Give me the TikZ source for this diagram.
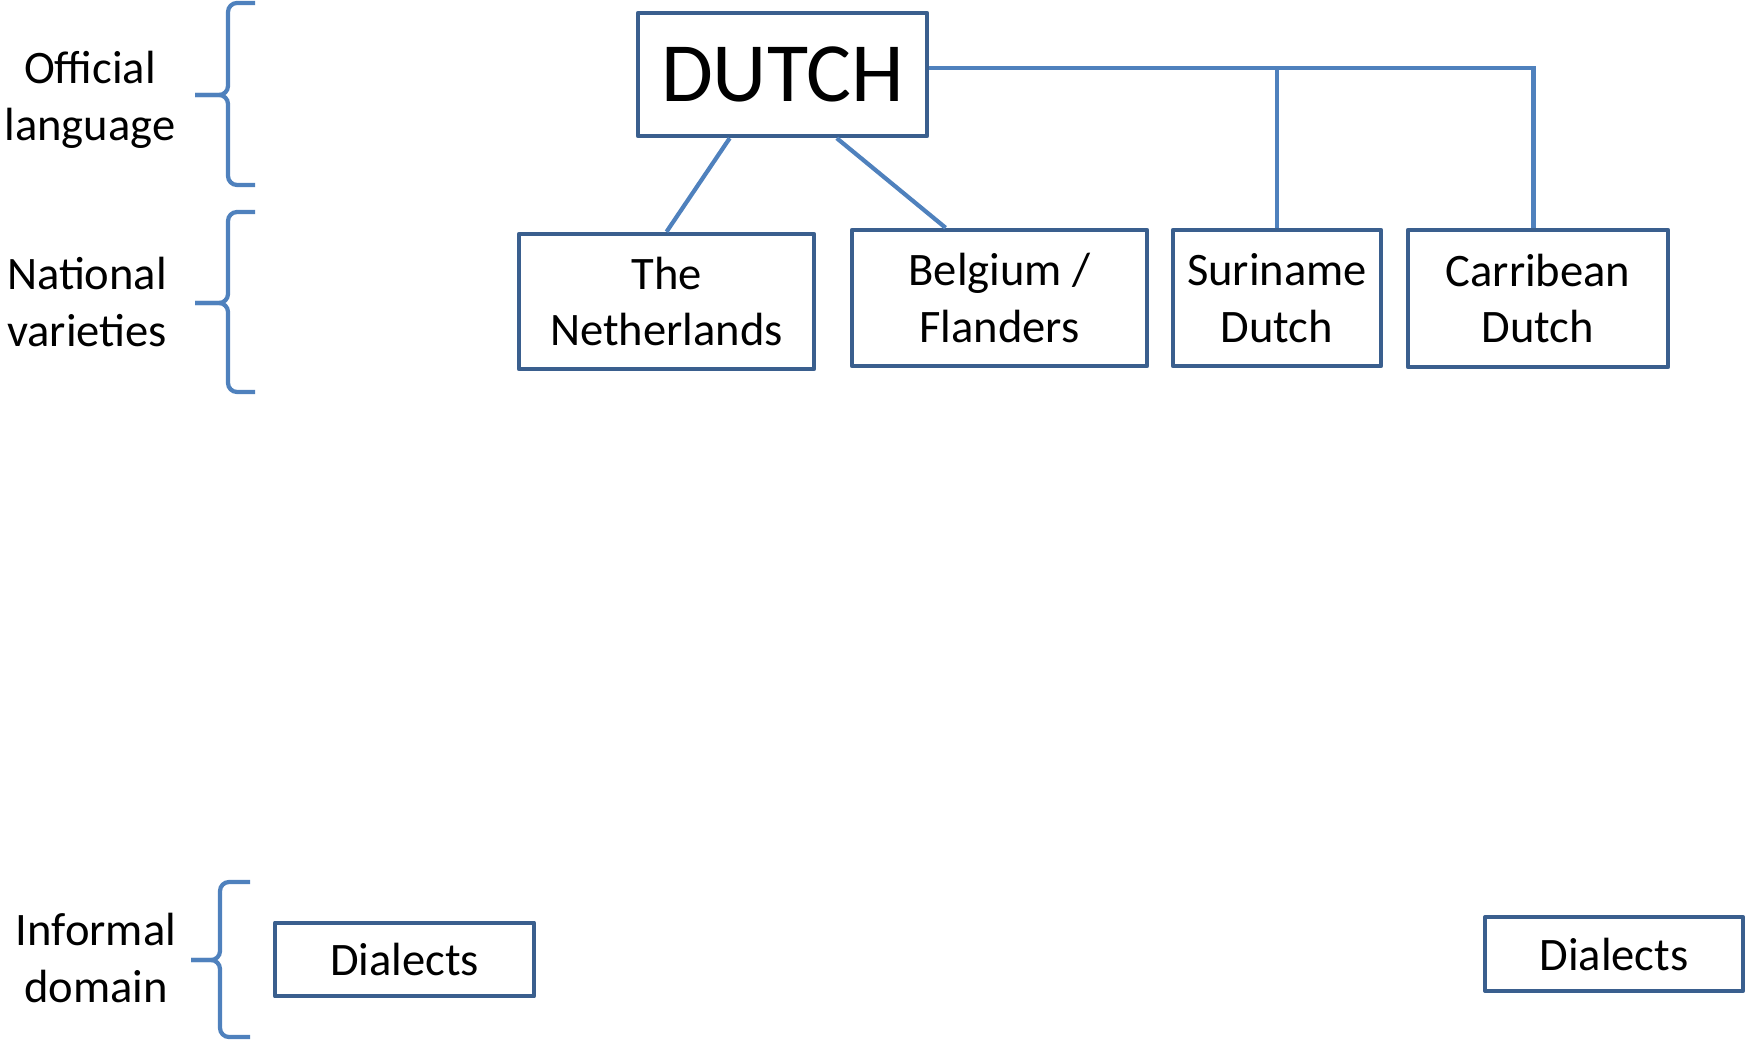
\documentclass[tikz,border=0pt]{standalone}
\usepackage{fontspec}
\setmainfont{Carlito}
\usetikzlibrary{calc}
\definecolor{boxblue}{HTML}{3A5F8E}
\definecolor{lineblue}{HTML}{4F81BD}

\begin{document}
\begin{tikzpicture}

        \useasboundingbox (0,0) rectangle (34.9,-20.82);

        \tikzstyle{box}=[draw=boxblue, line width=2.5pt, line join=round, rectangle, align=center, inner sep=0pt, font=\fontsize{26.5}{32.4}\selectfont]
        \tikzstyle{level}=[align=center, inner sep=0pt, font=\fontsize{26.5}{32.4}\selectfont]
        \tikzstyle{link}=[draw=lineblue, line width=2.4pt]
        \tikzstyle{brc}=[draw=lineblue, line width=2.4pt, rounded corners=0.18cm]

        % levels on the left
        \node[level] (official) at (1.8, -1.99) {Official\\language};
        \node[level] (national) at (1.74, -6.04) {National\\varieties};
        \node[level] (informal) at (1.92, -19.16) {Informal\\domain};

        \foreach \xe/\xv/\xt/\ya/\ym/\yb in {5.1/4.56/3.9/-0.06/-1.9/-3.7, 5.1/4.56/3.9/-4.24/-6.06/-7.84, 5.0/4.4/3.82/-17.64/-19.2/-20.74} {
            \draw[brc] (\xe,\ya) -- (\xv,\ya) -- (\xv,\ym) -- (\xt,\ym);
            \draw[brc] (\xt,\ym) -- (\xv,\ym) -- (\xv,\yb) -- (\xe,\yb);
        }

        \node[box, minimum width=5.78cm, minimum height=2.46cm, font=\fontsize{48}{56}\selectfont] (dutch) at (15.65, -1.49) {DUTCH};

        \node[box, minimum width=5.9cm, minimum height=2.7cm] (neth) at (13.33, -6.03) {The\\Netherlands};
        \node[box, minimum width=5.9cm, minimum height=2.72cm] (belg) at (19.99, -5.96) {Belgium /\\Flanders};
        \node[box, minimum width=4.16cm, minimum height=2.72cm] (surin) at (25.54, -5.96) {Suriname\\Dutch};
        \node[box, minimum width=5.2cm, minimum height=2.74cm] (carib) at (30.76, -5.97) {Carribean\\Dutch};

        \foreach \n/\x/\y/\w in {dialL/8.09/-19.19/5.18, dialR/32.28/-19.08/5.16} {
            \node[box, minimum width=\w cm, minimum height=1.47cm] (\n) at (\x, \y) {Dialects};
        }

        \draw[link] ($(dutch.south west)!0.32!(dutch.south east)$) -- (neth.north);
        \draw[link] ($(dutch.south west)!0.685!(dutch.south east)$) -- ($(belg.north west)!0.32!(belg.north east)$);

        \coordinate (bus) at ($(dutch.east)+(0,0.13)$);
        \coordinate (cdrop) at ($(carib.north)+(-0.09,0)$);
        \draw[link] (bus) -- (bus -| cdrop) -- (cdrop);
        \draw[link] (bus -| surin.north) -- (surin.north);

    \end{tikzpicture}
\end{document}
